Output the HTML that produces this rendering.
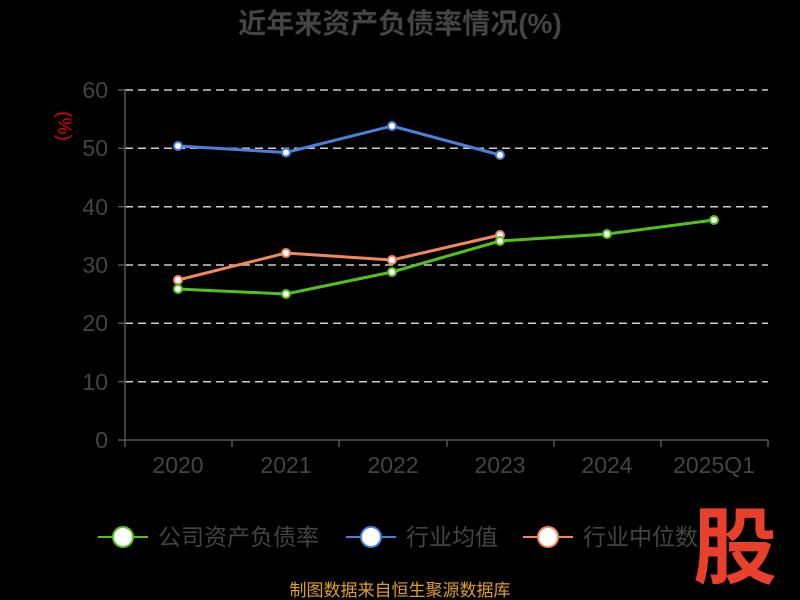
<!DOCTYPE html>
<html><head><meta charset="utf-8"><style>
html,body{margin:0;padding:0;background:#000;}
svg{display:block;font-family:"Liberation Sans","Noto Sans CJK SC",sans-serif;}
</style></head><body>
<svg width="800" height="600" viewBox="0 0 800 600">
<rect width="800" height="600" fill="#000"/>
<text x="400" y="33" text-anchor="middle" font-size="28" font-weight="bold" fill="#444">近年来资产负债率情况(%)</text>
<text transform="translate(58,126) rotate(90)" text-anchor="middle" font-size="19" fill="#e00000">(%)</text>
<g stroke="#ccc" stroke-width="1.5" stroke-dasharray="8,5">
<line x1="125" y1="90" x2="768" y2="90"/><line x1="125" y1="148.3" x2="768" y2="148.3"/>
<line x1="125" y1="206.7" x2="768" y2="206.7"/><line x1="125" y1="265" x2="768" y2="265"/>
<line x1="125" y1="323.3" x2="768" y2="323.3"/><line x1="125" y1="381.7" x2="768" y2="381.7"/>
</g>
<g stroke="#555" stroke-width="1.5">
<line x1="125" y1="90" x2="125" y2="440"/><line x1="125" y1="440" x2="768" y2="440"/>
<line x1="118" y1="90" x2="125" y2="90"/><line x1="118" y1="148.3" x2="125" y2="148.3"/><line x1="118" y1="206.7" x2="125" y2="206.7"/><line x1="118" y1="265" x2="125" y2="265"/><line x1="118" y1="323.3" x2="125" y2="323.3"/><line x1="118" y1="381.7" x2="125" y2="381.7"/><line x1="118" y1="440" x2="125" y2="440"/>
<line x1="125" y1="440" x2="125" y2="447"/><line x1="232" y1="440" x2="232" y2="447"/><line x1="339" y1="440" x2="339" y2="447"/><line x1="447" y1="440" x2="447" y2="447"/><line x1="554" y1="440" x2="554" y2="447"/><line x1="661" y1="440" x2="661" y2="447"/><line x1="768" y1="440" x2="768" y2="447"/>
</g>
<g font-size="23" fill="#444" text-anchor="end">
<text x="108" y="98">60</text><text x="108" y="156">50</text><text x="108" y="215">40</text><text x="108" y="273">30</text><text x="108" y="331">20</text><text x="108" y="390">10</text><text x="108" y="448">0</text>
</g>
<g font-size="23" fill="#444" text-anchor="middle">
<text x="178" y="473">2020</text><text x="286" y="473">2021</text><text x="393" y="473">2022</text><text x="500" y="473">2023</text><text x="607" y="473">2024</text><text x="714" y="473">2025Q1</text>
</g>
<g stroke-width="3" fill="none">
<polyline stroke="#4a7fdc" points="178,146 286,152.5 392,126 500,155"/>
<polyline stroke="#f4875a" points="178,280 286,253 392,260 500,235"/>
<polyline stroke="#52c21a" points="178,289 286,294 392,272 500,241 607,234 714,220"/>
</g>
<g stroke-width="2" fill="#fff">
<g stroke="#4a7fdc"><circle cx="178" cy="146" r="4"/><circle cx="286" cy="152.5" r="4"/><circle cx="392" cy="126" r="4"/><circle cx="500" cy="155" r="4"/></g>
<g stroke="#f4875a"><circle cx="178" cy="280" r="4"/><circle cx="286" cy="253" r="4"/><circle cx="392" cy="260" r="4"/><circle cx="500" cy="235" r="4"/></g>
<g stroke="#52c21a"><circle cx="178" cy="289" r="4"/><circle cx="286" cy="294" r="4"/><circle cx="392" cy="272" r="4"/><circle cx="500" cy="241" r="4"/><circle cx="607" cy="234" r="4"/><circle cx="714" cy="220" r="4"/></g>
</g>
<g font-size="23" fill="#444">
<line x1="98" y1="537" x2="148" y2="537" stroke="#52c21a" stroke-width="2"/><circle cx="123" cy="537" r="10" fill="#fff" stroke="#52c21a" stroke-width="2"/>
<text x="158" y="545">公司资产负债率</text>
<line x1="346" y1="537" x2="396" y2="537" stroke="#4a7fdc" stroke-width="2"/><circle cx="371" cy="537" r="10" fill="#fff" stroke="#4a7fdc" stroke-width="2"/>
<text x="406" y="545">行业均值</text>
<line x1="523" y1="537" x2="573" y2="537" stroke="#f4875a" stroke-width="2"/><circle cx="548" cy="537" r="10" fill="#fff" stroke="#f4875a" stroke-width="2"/>
<text x="583" y="545">行业中位数</text>
</g>
<text x="735" y="577" text-anchor="middle" font-size="84" font-weight="bold" fill="#e8402a">股</text>
<text x="400" y="596" text-anchor="middle" font-size="17" fill="#e0a020">制图数据来自恒生聚源数据库</text>
</svg>
</body></html>
